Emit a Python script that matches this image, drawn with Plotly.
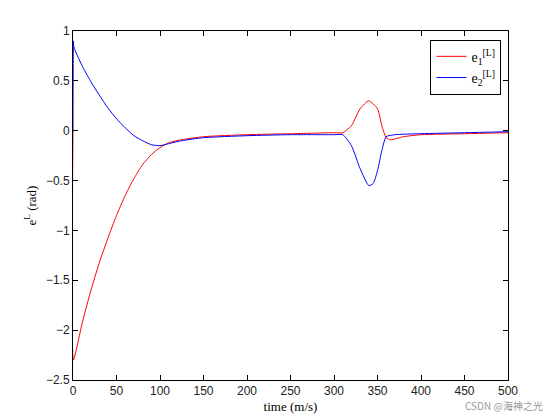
import plotly.graph_objects as go

t_red = [0, 0.5, 5, 10, 20, 30, 40, 50, 60, 70, 80, 90, 100, 110, 125, 150, 200, 250, 300, 310, 320, 330, 340, 350, 355, 360, 365, 380, 400, 450, 500]
e1 = [0, -2.3, -2.15, -1.95, -1.62, -1.33, -1.08, -0.85, -0.65, -0.48, -0.34, -0.24, -0.17, -0.12, -0.09, -0.06, -0.04, -0.03, -0.02, -0.02, 0.05, 0.22, 0.3, 0.22, 0.05, -0.07, -0.09, -0.06, -0.04, -0.03, -0.02]
t_blue = [0, 0.5, 1, 10, 20, 30, 40, 50, 60, 70, 80, 90, 100, 110, 125, 150, 200, 250, 300, 310, 320, 330, 340, 345, 350, 355, 360, 370, 400, 450, 500]
e2 = [0, 0.9, 0.84, 0.66, 0.5, 0.36, 0.23, 0.12, 0.03, -0.05, -0.1, -0.14, -0.15, -0.13, -0.1, -0.07, -0.05, -0.04, -0.04, -0.04, -0.15, -0.38, -0.55, -0.53, -0.4, -0.2, -0.06, -0.04, -0.03, -0.02, -0.01]

fig = go.Figure()
fig.add_trace(go.Scatter(x=t_red, y=e1, mode="lines",
                         line=dict(color="red", width=1, shape="spline", smoothing=0.6),
                         name="e<sub>1</sub><sup>[L]</sup>"))
fig.add_trace(go.Scatter(x=t_blue, y=e2, mode="lines",
                         line=dict(color="blue", width=1, shape="spline", smoothing=0.6),
                         name="e<sub>2</sub><sup>[L]</sup>"))

ax = dict(showgrid=False, zeroline=False, showline=True, mirror="ticks", linecolor="black",
          ticks="inside", ticklen=5, tickcolor="black", linewidth=1,
          tickfont=dict(family="Arial", size=12, color="#222"))
fig.update_xaxes(range=[0, 500], dtick=50, title=dict(text="time (m/s)", standoff=4,
                 font=dict(family="Liberation Serif", size=13, color="black")), **ax)
fig.update_yaxes(range=[-2.5, 1], dtick=0.5, title=dict(text="e<sup>L</sup> (rad)", standoff=6,
                 font=dict(family="Liberation Serif", size=13, color="black")), **ax)
fig.update_layout(width=560, height=420, margin=dict(l=65, r=60, t=23, b=48),
                  plot_bgcolor="white", paper_bgcolor="white", showlegend=True,
                  legend=dict(x=0.985, y=0.975, xanchor="right", yanchor="top",
                              bordercolor="black", borderwidth=1, bgcolor="white",
                              font=dict(family="Liberation Serif", size=14, color="black")))
fig.add_annotation(text="CSDN @海神之光", xref="paper", yref="paper", x=1.085, y=-0.1,
                   showarrow=False, xanchor="right",
                   font=dict(family="Noto Sans CJK SC", size=10, color="#999"))
fig.write_html("out.html")
